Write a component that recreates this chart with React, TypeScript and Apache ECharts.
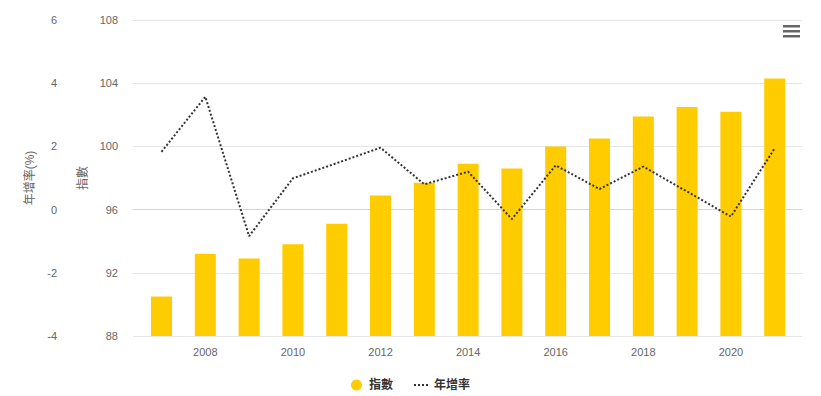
import React, { useEffect, useRef } from "react";
import * as echarts from "echarts";

const years = [2007, 2008, 2009, 2010, 2011, 2012, 2013, 2014, 2015, 2016, 2017, 2018, 2019, 2020, 2021];
const indexValues = [90.5, 93.2, 92.9, 93.8, 95.1, 96.9, 97.7, 98.9, 98.6, 100.0, 100.5, 101.9, 102.5, 102.2, 104.3];
const rateValues = [1.83, 3.57, -0.84, 0.99, 1.47, 1.96, 0.8, 1.2, -0.3, 1.4, 0.65, 1.36, 0.57, -0.22, 1.94];
const xTickYears = [2008, 2010, 2012, 2014, 2016, 2018, 2020];

export default function App() {
  const ref = useRef<HTMLDivElement>(null);
  useEffect(() => {
    if (!ref.current) return;
    const chart = echarts.init(ref.current, null, { renderer: "svg" });
    const font = "Lucida Grande, Lucida Sans Unicode, Arial, Helvetica, 'Noto Sans CJK TC', sans-serif";
    chart.setOption({
      animation: false,
      textStyle: { fontFamily: font },
      grid: { left: 133, right: 19, top: 20, bottom: 60 },
      legend: {
        left: "center",
        top: 374,
        itemWidth: 15,
        itemHeight: 11,
        itemGap: 20,
        textStyle: { color: "#333333", fontSize: 12, fontWeight: "bold", fontFamily: font },
        data: [
          { name: "指數", icon: "circle" },
          { name: "年增率", itemStyle: { opacity: 0 } },
        ],
      },
      xAxis: {
        type: "value",
        min: 2006.349,
        max: 2021.623,
        splitLine: { show: false },
        axisLine: { show: true, lineStyle: { color: "#ccd6eb" } },
        axisTick: { show: false },
        axisLabel: {
          color: "#666666",
          fontSize: 11,
          margin: 10,
          customValues: xTickYears,
          formatter: (v: number) => String(Math.round(v)),
        },
      },
      yAxis: [
        {
          type: "value",
          min: 88,
          max: 108,
          interval: 4,
          position: "left",
          name: "指數",
          nameLocation: "middle",
          nameRotate: 90,
          nameGap: 42,
          nameTextStyle: { color: "#666666", fontSize: 12 },
          axisLine: { show: false },
          axisTick: { show: false },
          axisLabel: { color: "#666666", fontSize: 11, margin: 15 },
          splitLine: { lineStyle: { color: "#e6e6e6" } },
        },
        {
          type: "value",
          min: -4,
          max: 6,
          interval: 2,
          position: "left",
          offset: 68,
          name: "年增率(%)",
          nameLocation: "middle",
          nameRotate: 90,
          nameGap: 26,
          nameTextStyle: { color: "#666666", fontSize: 12 },
          axisLine: { show: false },
          axisTick: { show: false },
          axisLabel: { color: "#666666", fontSize: 11, margin: 8 },
          splitLine: { show: false },
        },
      ],
      series: [
        {
          name: "指數",
          type: "bar",
          yAxisIndex: 0,
          barWidth: 21,
          itemStyle: { color: "#FFCC00" },
          data: years.map((y, i) => [y, indexValues[i]]),
        },
        {
          name: "年增率",
          type: "line",
          yAxisIndex: 1,
          symbol: "none",
          lineStyle: { color: "#333333", width: 2, type: [2, 2] },
          itemStyle: { color: "#333333" },
          data: years.map((y, i) => [y, rateValues[i]]),
        },
      ],
      graphic: [
        { type: "rect", shape: { x: 783, y: 25, width: 17, height: 2.5 }, style: { fill: "#666666" } },
        { type: "rect", shape: { x: 783, y: 30, width: 17, height: 2.5 }, style: { fill: "#666666" } },
        { type: "rect", shape: { x: 783, y: 35, width: 17, height: 2.5 }, style: { fill: "#666666" } },
      ],
    });
    return () => chart.dispose();
  }, []);
  return <div ref={ref} style={{ width: 821, height: 396, position: "absolute", left: 0, top: 0 }} />;
}
